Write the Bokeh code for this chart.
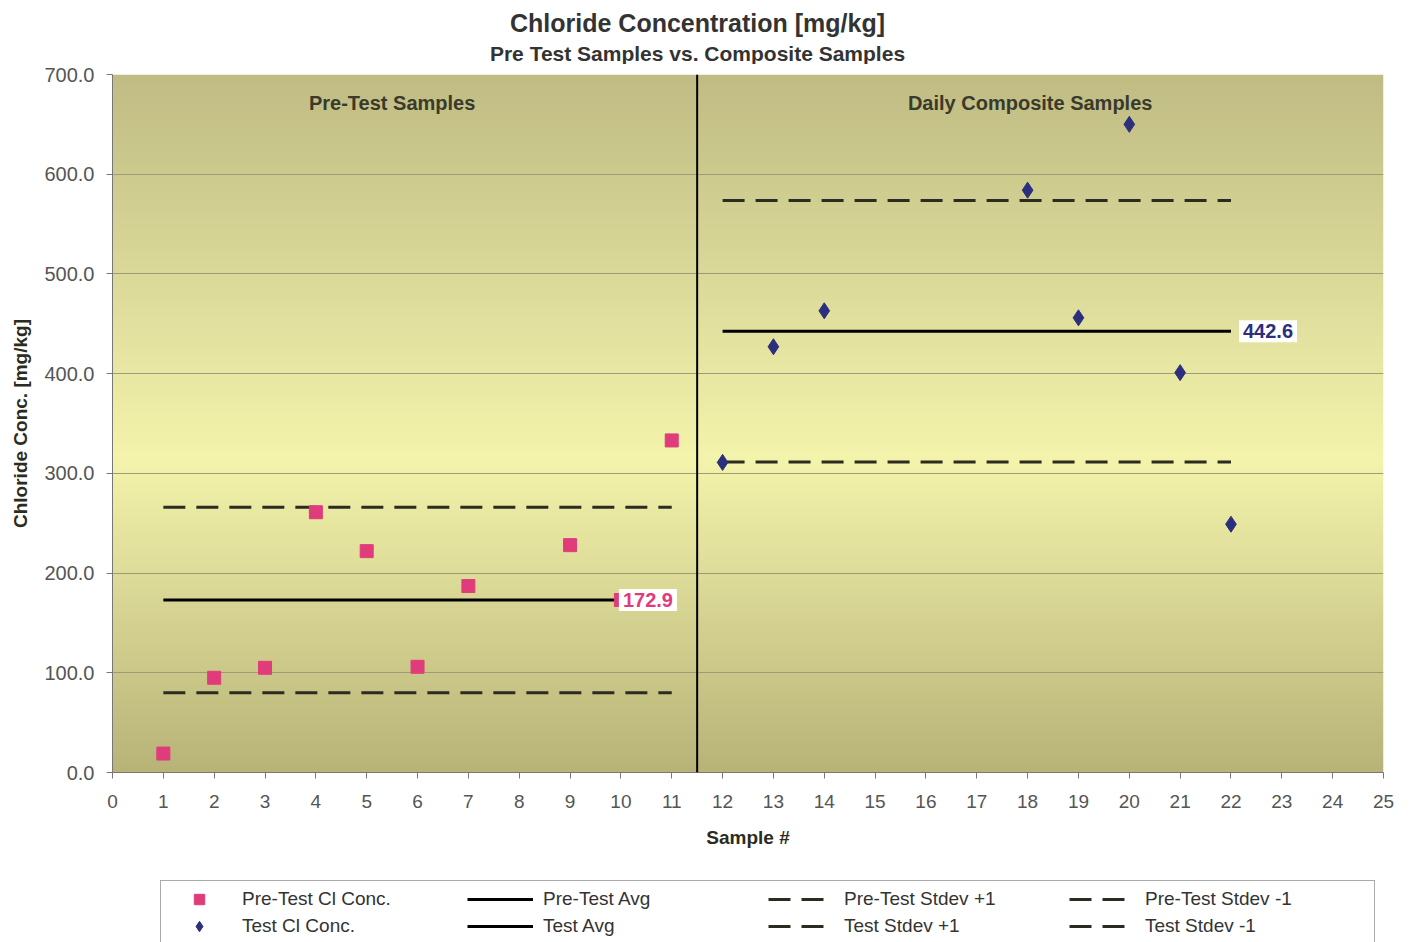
import numpy as np
from bokeh.plotting import figure
from bokeh.layouts import column
from bokeh.models import (Label, Span, Legend, LegendItem, FixedTicker,
                          NumeralTickFormatter, Range1d)
from bokeh.embed import file_html
from bokeh.resources import INLINE

# ---- data -------------------------------------------------------------
pre_samples = [1, 2, 3, 4, 5, 6, 7, 9, 10, 11]
pre_cl = [19, 95, 105, 261, 222, 106, 187, 228, 173, 333]

test_samples = [12, 13, 14, 18, 19, 20, 21, 22]
test_cl = [311, 427, 463, 584, 456, 650, 401, 249]

x_ticks = list(range(0, 26))
y_ticks = [0, 100, 200, 300, 400, 500, 600, 700]

# horizontal extent of the reference lines (sample numbers)
pre_avg_extent = [1, 10]
pre_sd_extent = [1, 11]
test_extent = [12, 22]
divider_x = 11.5

title_text = "Chloride Concentration [mg/kg]"
subtitle_text = "Pre Test Samples vs. Composite Samples"

section_titles = ["Pre-Test Samples", "Daily Composite Samples"]
section_title_x = [5.5, 18.05]
section_title_y = 671

legend_labels = ["Pre-Test Cl Conc.", "Pre-Test Avg", "Pre-Test Stdev +1", "Pre-Test Stdev -1",
                 "Test Cl Conc.", "Test Avg", "Test Stdev +1", "Test Stdev -1"]

# ---- statistics -------------------------------------------------------
pre_mean = float(np.mean(pre_cl))
pre_sd = float(np.std(pre_cl, ddof=1))
test_mean = float(np.mean(test_cl))
test_sd = float(np.std(test_cl, ddof=1))

# ---- styling ----------------------------------------------------------
SANS = "'Liberation Sans', Arial, sans-serif"
PINK = "#e03c7c"
NAVY = "#2c2f7c"
DARK = "#2b2b20"
DASH = "22 11"
W = 1409


def strip(height, x_range, y_range):
    """Axis-less white figure used for the header and the legend rows."""
    f = figure(width=W, height=height, x_range=x_range, y_range=y_range,
               output_backend="svg", toolbar_location=None, title=None,
               x_axis_location=None, y_axis_location=None,
               min_border=0, outline_line_color=None,
               background_fill_color="white", border_fill_color="white")
    f.xgrid.visible = False
    f.ygrid.visible = False
    return f


# ---- header: title + sub-title (pixel coordinates, y measured downward) ----
head = strip(64, Range1d(112, 1383), Range1d(64, 0))
head.add_layout(Label(x=697, y=22, text=title_text, text_align="center",
                      text_baseline="middle", text_font=SANS, text_font_size="25px",
                      text_font_style="bold", text_color="#333333"))
head.add_layout(Label(x=697, y=53, text=subtitle_text, text_align="center",
                      text_baseline="middle", text_font=SANS, text_font_size="21px",
                      text_font_style="bold", text_color="#333333"))

# ---- main chart -------------------------------------------------------
p = figure(width=W, height=816, x_range=(0, 25), y_range=(0, 700),
           output_backend="svg", toolbar_location=None, title=None,
           min_border_left=112, min_border_right=26, min_border_top=10,
           min_border_bottom=108, outline_line_color=None,
           background_fill_color="white", border_fill_color="white")

# plot-area background: olive -> pale yellow -> olive vertical gradient
rows = 700
t = np.linspace(0.0, 1.0, rows)
stops_t = [0.0, 0.45, 1.0]
stops_rgb = [(184, 179, 120), (244, 244, 172), (192, 188, 132)]
grad = np.empty((rows, 1), dtype=np.uint32)
view = grad.view(dtype=np.uint8).reshape((rows, 1, 4))
for ch in range(3):
    view[:, 0, ch] = np.interp(t, stops_t, [c[ch] for c in stops_rgb]).astype(np.uint8)
view[:, 0, 3] = 255
p.image_rgba(image=[grad], x=0, y=0, dw=25, dh=700, level="image")

# grid / axes
p.xgrid.grid_line_color = None
p.ygrid.ticker = FixedTicker(ticks=y_ticks)
p.ygrid.grid_line_color = "#9d9c78"
p.ygrid.grid_line_width = 1

p.xaxis.ticker = FixedTicker(ticks=x_ticks)
p.yaxis.ticker = FixedTicker(ticks=y_ticks)
p.yaxis.formatter = NumeralTickFormatter(format="0.0")
for ax in (p.xaxis, p.yaxis):
    ax.major_tick_in = 0
    ax.major_tick_out = 6
    ax.minor_tick_line_color = None
    ax.axis_line_color = "#777777"
    ax.major_tick_line_color = "#777777"
    ax.major_label_text_color = "#555555"
    ax.major_label_text_font = SANS
    ax.axis_label_text_color = DARK
    ax.axis_label_text_font = SANS
    ax.axis_label_text_font_style = "bold"
    ax.axis_label_text_font_size = "19px"
p.xaxis.major_label_text_font_size = "19px"
p.xaxis.major_label_standoff = 16
p.yaxis.major_label_text_font_size = "20px"
p.yaxis.major_label_standoff = 12
p.xaxis.axis_label = "Sample #"
p.xaxis.axis_label_standoff = 16
p.yaxis.axis_label = "Chloride Conc. [mg/kg]"
p.yaxis.axis_label_standoff = 10

# divider between the two sample groups
p.add_layout(Span(location=divider_x, dimension="height", line_color="black", line_width=2))

# reference lines
line_styles = [dict(line_color="black", line_width=3),
               dict(line_color=DARK, line_width=3, line_dash=DASH),
               dict(line_color=DARK, line_width=3, line_dash=DASH)]
p.line(pre_avg_extent, [pre_mean, pre_mean], **line_styles[0])
p.line(pre_sd_extent, [pre_mean + pre_sd] * 2, **line_styles[1])
p.line(pre_sd_extent, [pre_mean - pre_sd] * 2, **line_styles[2])
p.line(test_extent, [test_mean, test_mean], **line_styles[0])
p.line(test_extent, [test_mean + test_sd] * 2, **line_styles[1])
p.line(test_extent, [test_mean - test_sd] * 2, **line_styles[2])

# samples
pre_marker = dict(marker="square", size=13, fill_color=PINK, line_color=PINK)
test_marker = dict(marker="diamond", size=16, fill_color=NAVY, line_color=NAVY)
p.scatter(pre_samples, pre_cl, **pre_marker)
p.scatter(test_samples, test_cl, **test_marker)

# section headings
for txt, xx in zip(section_titles, section_title_x):
    p.add_layout(Label(x=xx, y=section_title_y, text=txt, text_align="center",
                       text_baseline="middle", text_font=SANS, text_font_size="20px",
                       text_font_style="bold", text_color="#3a3a2c"))

# average value labels
p.add_layout(Label(x=pre_avg_extent[1], y=pre_mean, text=f"{pre_mean:.1f}", x_offset=-2,
                   text_baseline="middle", text_font=SANS, text_font_size="20px",
                   text_font_style="bold", text_color=PINK, padding=4,
                   background_fill_color="white"))
p.add_layout(Label(x=test_extent[1], y=test_mean, text=f"{test_mean:.1f}", x_offset=8,
                   text_baseline="middle", text_font=SANS, text_font_size="20px",
                   text_font_style="bold", text_color=NAVY, padding=4,
                   background_fill_color="white"))

# ---- legend strip -----------------------------------------------------
# the series are repeated here only as legend keys; they fall outside this strip's ranges
lg = strip(62, Range1d(-1, -0.5), Range1d(-1, -0.5))
keys = [
    lg.scatter(pre_samples, pre_cl, **pre_marker),
    lg.line(pre_avg_extent, [pre_mean] * 2, **line_styles[0]),
    lg.line(pre_sd_extent, [pre_mean + pre_sd] * 2, **line_styles[1]),
    lg.line(pre_sd_extent, [pre_mean - pre_sd] * 2, **line_styles[2]),
    lg.scatter(test_samples, test_cl, **test_marker),
    lg.line(test_extent, [test_mean] * 2, **line_styles[0]),
    lg.line(test_extent, [test_mean + test_sd] * 2, **line_styles[1]),
    lg.line(test_extent, [test_mean - test_sd] * 2, **line_styles[2]),
]
items = [LegendItem(label=lab, renderers=[r]) for lab, r in zip(legend_labels, keys)]
legend = Legend(items=items, orientation="horizontal", nrows=2, location=(48, -3),
                label_text_font=SANS, label_text_font_size="19px", label_text_color="#333333",
                glyph_width=66, glyph_height=26, label_standoff=10, label_width=224,
                label_height=26, spacing=1, padding=5, margin=0,
                border_line_color="#555555", border_line_width=1.5,
                background_fill_color="white", background_fill_alpha=1.0)
lg.add_layout(legend)

open("out.html", "w").write(file_html(column(head, p, lg, spacing=0), INLINE))
